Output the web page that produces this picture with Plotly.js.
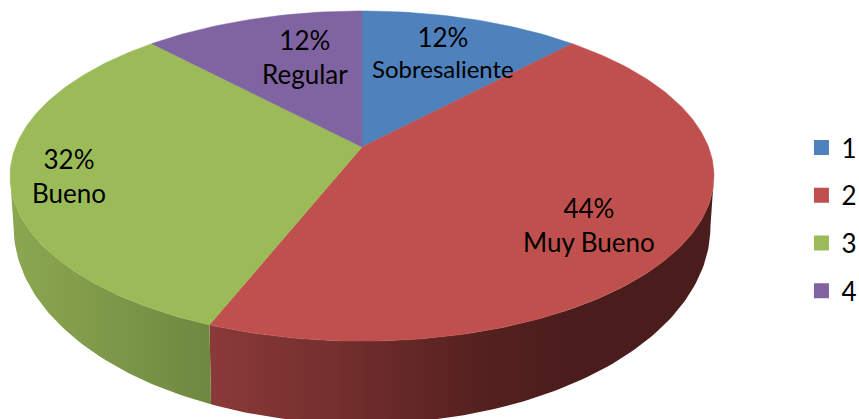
<!DOCTYPE html>
<html><head><meta charset="utf-8">
<script src="https://cdn.plot.ly/plotly-3.0.1.min.js"></script>
<style>html,body{margin:0;padding:0;background:#fff;overflow:hidden}</style>
</head><body><div id="chart" style="width:859px;height:419px"></div>
<script>
const categories = ['1','2','3','4'];
const values = [12,44,32,12];
const sliceNames = ['Sobresaliente','Muy Bueno','Bueno','Regular'];
const faceColors = ['#4F81BD','#C0504D','#9BBB59','#8064A2'];
const labelX = [443,589,69,305];
const labelY = [52,225,176,57];
const wallScales = {
  1:[[0,'#8A3A38'],[0.25,'#742F2E'],[0.53,'#552120'],[0.72,'#4A1D1C'],[1,'#4A1D1C']],
  2:[[0,'#8CA750'],[0.5,'#7E9849'],[1,'#6D8840']]
};
const top_ = {cx:362,cy:147,A:346.5,B:160,k:0.176};
const bot_ = {cx:362,cy:192,A:343,B:191,k:0.176};
const proj = (p,deg)=>{const t=deg*Math.PI/180,u=Math.sin(t),v=Math.cos(t),w=1+p.k*v;
  return [p.cx+p.A*u/w,p.cy-p.B*v/w];};
const arc = (p,a,b)=>{const n=Math.max(2,Math.ceil(Math.abs(b-a))),o=[];
  for(let i=0;i<=n;i++)o.push(proj(p,a+(b-a)*i/n));return o;};
const total = values.reduce((a,b)=>a+b,0);
let acc=0; const spans=values.map(v=>{const s=[acc/total*360,(acc+v)/total*360];acc+=v;return s;});
const traces=[];
const visA=100.1, visB=259.9;
spans.forEach((s,i)=>{
  const a=Math.max(s[0],visA), b=Math.min(s[1],visB);
  if(b<=a) return;
  const pts=arc(top_,a,b).concat(arc(bot_,b,a));
  traces.push({type:'scatter',mode:'lines',x:pts.map(q=>q[0]),y:pts.map(q=>q[1]),fill:'toself',
    line:{width:0},showlegend:false,hoverinfo:'skip',
    fillgradient:{type:'horizontal',colorscale:wallScales[i]}});
});
spans.forEach((s,i)=>{
  const pts=[[top_.cx,top_.cy]].concat(arc(top_,s[0],s[1]));
  pts.push([top_.cx,top_.cy]);
  traces.push({type:'scatter',mode:'lines',x:pts.map(q=>q[0]),y:pts.map(q=>q[1]),fill:'toself',
    fillcolor:faceColors[i],line:{width:0.5,color:faceColors[i]},showlegend:false,hoverinfo:'skip'});
});
categories.forEach((c,i)=>{
  traces.push({type:'scatter',mode:'markers',x:[null],y:[null],name:c,legendgroup:c,
    marker:{symbol:'square',size:15,color:faceColors[i]},hoverinfo:'skip'});
});
const annotations=values.map((v,i)=>({xref:'x',yref:'y',x:labelX[i],y:labelY[i],showarrow:false,
  text:(i===0?'<span style="font-size:26px">'+v+'%</span>':v+'%')+'<br>'+sliceNames[i],
  align:'center',xanchor:'center',yanchor:'middle',
  font:{family:'Lato',size:i===0?24:26,color:'#000'}}));
Plotly.newPlot('chart',traces,{
  width:859,height:419,margin:{l:0,r:0,t:0,b:0,autoexpand:false},paper_bgcolor:'#fff',plot_bgcolor:'#fff',
  xaxis:{range:[0,859],visible:false,fixedrange:true},
  yaxis:{range:[419,0],visible:false,fixedrange:true},
  showlegend:true,
  legend:{x:0.933,y:0.704,xanchor:'left',yanchor:'top',traceorder:'grouped',tracegroupgap:11,
    font:{family:'Lato',size:26,color:'#000'},itemwidth:30,entrywidth:18,entrywidthmode:'pixels',
    borderwidth:0,bgcolor:'rgba(0,0,0,0)'},
  annotations
},{displayModeBar:false,staticPlot:true});
</script></body></html>
